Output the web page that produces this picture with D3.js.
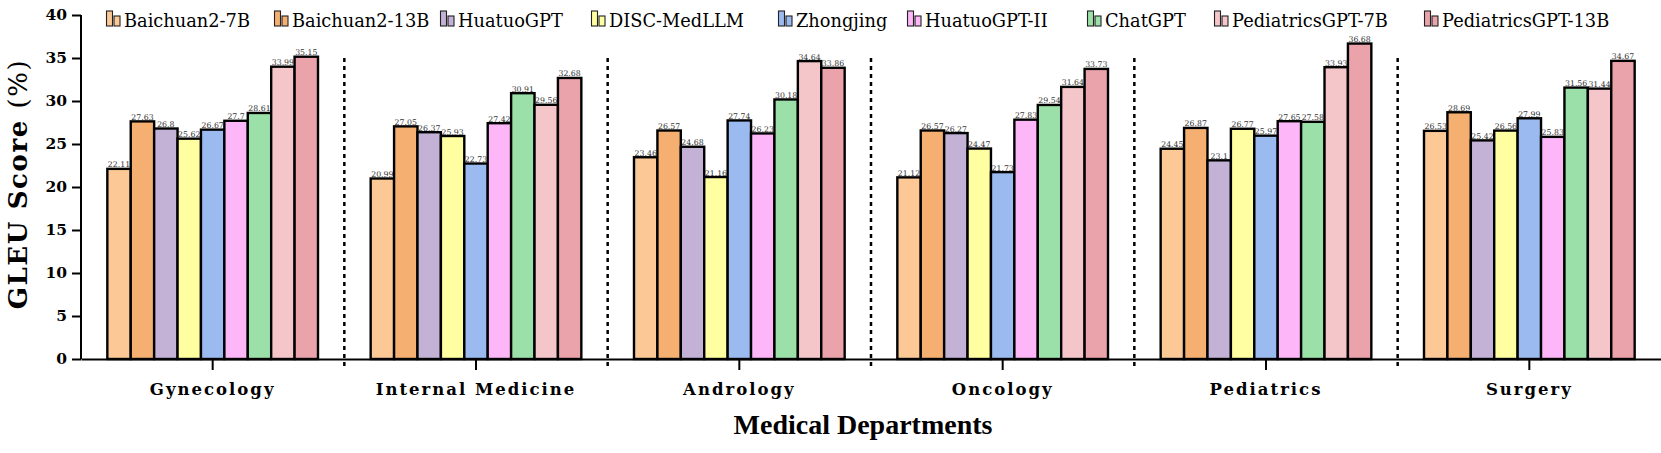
<!DOCTYPE html>
<html>
<head>
<meta charset="utf-8">
<script src="https://cdn.jsdelivr.net/npm/d3@7/dist/d3.min.js"></script>
<style>
  html, body { margin: 0; padding: 0; background: #fff; }
  svg { display: block; }
</style>
</head>
<body>
<svg id="chart" width="1661" height="453"></svg>
<script>
// ---- Data ----
const categories = ["Gynecology", "Internal Medicine", "Andrology", "Oncology", "Pediatrics", "Surgery"];
const models = ["Baichuan2-7B", "Baichuan2-13B", "HuatuoGPT", "DISC-MedLLM", "Zhongjing", "HuatuoGPT-II", "ChatGPT", "PediatricsGPT-7B", "PediatricsGPT-13B"];
const baichuan7B   = [22.11, 20.99, 23.46, 21.12, 24.45, 26.53];
const baichuan13B  = [27.63, 27.05, 26.57, 26.57, 26.87, 28.69];
const huatuoGPT    = [26.8, 26.37, 24.68, 26.27, 23.1, 25.42];
const discMedLLM   = [25.62, 25.93, 21.16, 24.47, 26.77, 26.56];
const zhongjing    = [26.67, 22.73, 27.74, 21.73, 25.97, 27.99];
const huatuoGPTII  = [27.7, 27.42, 26.23, 27.83, 27.65, 25.83];
const chatGPT      = [28.61, 30.91, 30.18, 29.54, 27.58, 31.56];
const pediatrics7B = [33.99, 29.56, 34.64, 31.64, 33.93, 31.44];
const pediatrics13B= [35.15, 32.68, 33.86, 33.73, 36.68, 34.67];
const yTicks = [0, 5, 10, 15, 20, 25, 30, 35, 40];
const colors = ["#FBC896", "#F4AF71", "#C3B1D6", "#FFFEA0", "#9BBAF0", "#FDB6F7", "#9CE0A9", "#F4C6C9", "#EBA3AB"];

const seriesValues = [baichuan7B, baichuan13B, huatuoGPT, discMedLLM, zhongjing, huatuoGPTII, chatGPT, pediatrics7B, pediatrics13B];
const table = [];
categories.forEach((c, ci) => {
  models.forEach((m, mi) => table.push({ cat: c, model: m, value: seriesValues[mi][ci] }));
});

// ---- Layout ----
const svg = d3.select("#chart");
const mLeft = 81, mRight = 1661, mTop = 15, mBottom = 359;

const x = d3.scaleBand().domain(categories).range([mLeft, mRight]).paddingInner(0).paddingOuter(0);
const xi = d3.scaleBand().domain(models).range([x.bandwidth() * 0.1, x.bandwidth() * 0.9]).padding(0);
const y = d3.scaleLinear().domain([0, 40]).range([mBottom, mTop]);
const color = d3.scaleOrdinal().domain(models).range(colors);

// separators
const seps = categories.slice(1).map(c => x(c));
svg.append("g").selectAll("line").data(seps).join("line")
  .attr("x1", d => d).attr("x2", d => d)
  .attr("y1", 58).attr("y2", 366)
  .attr("stroke", "#000").attr("stroke-width", 2.5)
  .attr("stroke-dasharray", "4,4");

// bars
const barG = svg.append("g");
barG.selectAll("rect").data(table).join("rect")
  .attr("x", d => x(d.cat) + xi(d.model))
  .attr("y", d => y(d.value))
  .attr("width", xi.bandwidth())
  .attr("height", d => y(0) - y(d.value))
  .attr("fill", d => color(d.model))
  .attr("stroke", "#000")
  .attr("stroke-width", 2.4);

// value labels
svg.append("g").selectAll("text").data(table).join("text")
  .attr("x", d => x(d.cat) + xi(d.model) + xi.bandwidth() / 2)
  .attr("y", d => y(d.value) - 1.5)
  .attr("text-anchor", "middle")
  .attr("font-family", "DejaVu Serif")
  .attr("font-size", 7.8)
  .attr("fill", "#333")
  .text(d => d.value);

// y axis
const yAxis = svg.append("g").attr("transform", `translate(${mLeft},0)`)
  .call(d3.axisLeft(y).tickValues(yTicks).tickSize(9).tickSizeOuter(0).tickPadding(5));
yAxis.select(".domain").attr("stroke-width", 2).attr("d", `M0,${mTop}V${mBottom}`);
yAxis.selectAll(".tick line").attr("stroke-width", 2);
yAxis.selectAll(".tick text")
  .attr("font-family", "DejaVu Serif").attr("font-weight", "bold").attr("font-size", 15.5).attr("fill", "#000");

// x axis
const xAxis = svg.append("g").attr("transform", `translate(0,${mBottom})`)
  .call(d3.axisBottom(x).tickSize(11).tickSizeOuter(0).tickPadding(13));
xAxis.select(".domain").attr("stroke-width", 2);
xAxis.selectAll(".tick line").attr("stroke-width", 2);
xAxis.selectAll(".tick text")
  .attr("font-family", "DejaVu Serif").attr("font-weight", "bold").attr("font-size", 16.5)
  .attr("letter-spacing", 2).attr("fill", "#000");

// axis titles
svg.append("text")
  .attr("x", 863).attr("y", 434)
  .attr("text-anchor", "middle")
  .attr("font-family", "Liberation Serif").attr("font-weight", "bold").attr("font-size", 28)
  .text("Medical Departments");

const yt = svg.append("text")
  .attr("transform", "translate(27,184) rotate(-90)")
  .attr("text-anchor", "middle")
  .attr("font-family", "DejaVu Serif").attr("font-size", 26).attr("letter-spacing", 1.6);
yt.append("tspan").attr("font-weight", "bold").text("GLEU Score ");
yt.append("tspan").attr("font-weight", "normal").text("(%)");

// legend
const legendX = [106, 274, 440, 591, 778, 907, 1087, 1214, 1424];
const lg = svg.append("g").selectAll("g").data(models).join("g")
  .attr("transform", (d, i) => `translate(${legendX[i]},0)`);
lg.append("rect").attr("x", 0.5).attr("y", 11).attr("width", 6).attr("height", 15)
  .attr("fill", d => color(d)).attr("stroke", "#222").attr("stroke-width", 1.1);
lg.append("rect").attr("x", 8).attr("y", 16).attr("width", 6).attr("height", 10)
  .attr("fill", d => color(d)).attr("stroke", "#222").attr("stroke-width", 1.1);
lg.append("text").attr("x", 18).attr("y", 26.5)
  .attr("font-family", "DejaVu Serif").attr("font-size", 17.8).attr("fill", "#000")
  .text(d => d);
</script>
</body>
</html>
